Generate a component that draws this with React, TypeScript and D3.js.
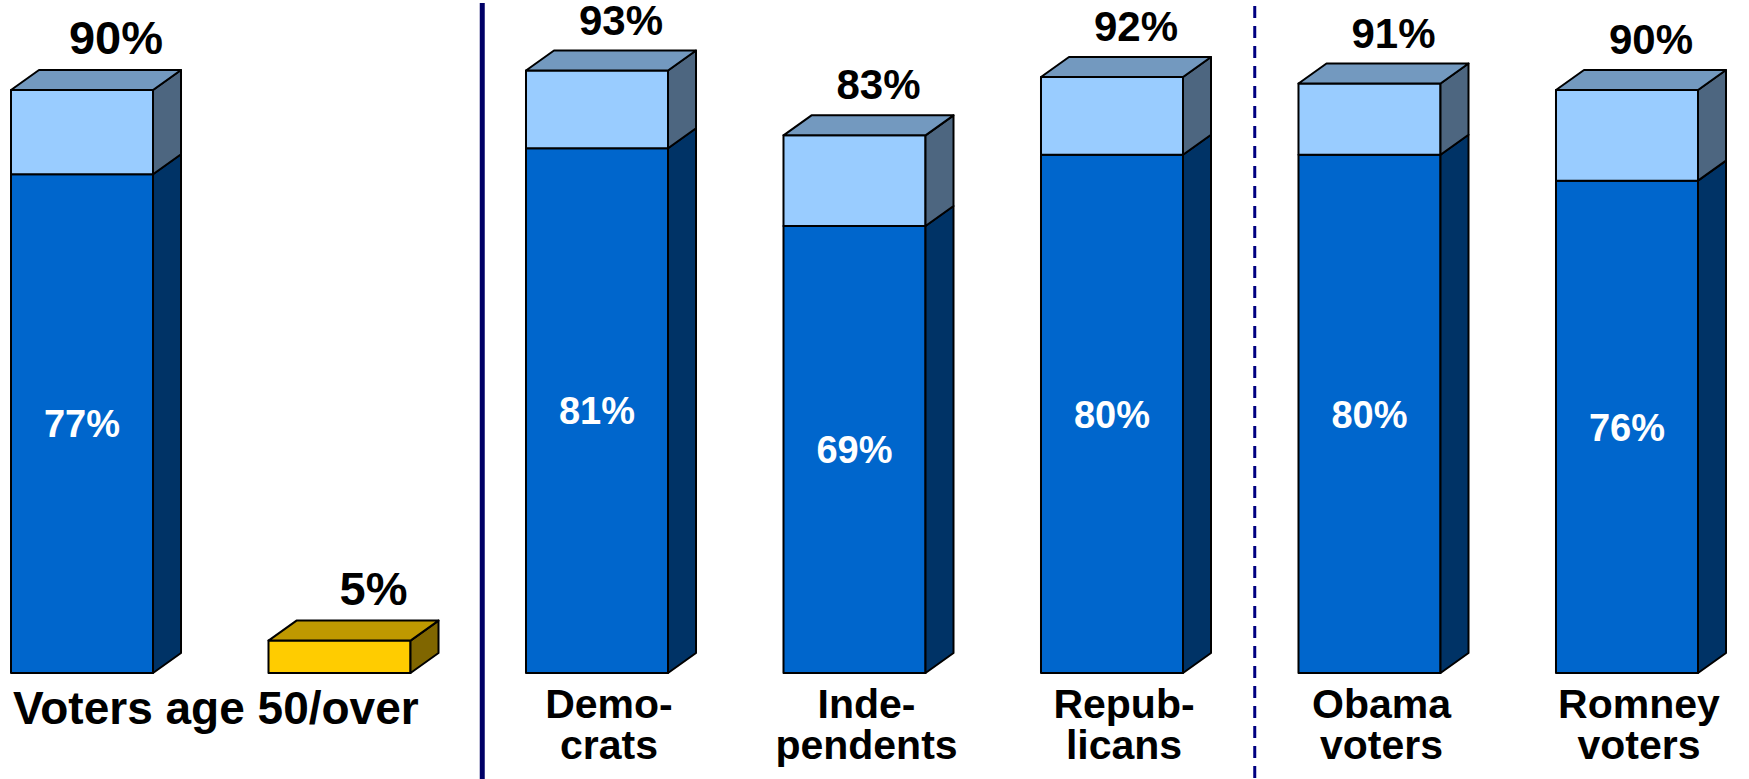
import * as d3 from "d3";

// bars, left to right
const barKeys = ["age50", "age50Other", "dem", "ind", "rep", "obama", "romney"];
const totalValues = [90, 5, 93, 83, 92, 91, 90];
const innerValues: (number | null)[] = [77, null, 81, 69, 80, 80, 76];
const panelOf = [0, 0, 1, 1, 1, 2, 2];
const barLabels: string[][] = [
  ["Voters age 50/over"],
  [],
  ["Demo-", "crats"],
  ["Inde-", "pendents"],
  ["Repub-", "licans"],
  ["Obama", "voters"],
  ["Romney", "voters"],
];

const W = 1749;
const H = 779;
const DX = 28;
const DY = -20;
const FONT = "'Liberation Sans', Arial, Helvetica, sans-serif";

const shades = {
  blue: { front: "#0066CC", side: "#003366", top: "#336699" },
  light: { front: "#99CCFF", side: "#4D6680", top: "#7399BF" },
  yellow: { front: "#FFCC00", side: "#806600", top: "#BF9900" },
};

type Shade = { front: string; side: string; top: string };

function Segment(props: { x0: number; w: number; yTop: number; yBot: number; c: Shade; lid: boolean }) {
  const { x0, w, yTop, yBot, c, lid } = props;
  const x1 = x0 + w;
  const side = [
    [x1, yBot],
    [x1 + DX, yBot + DY],
    [x1 + DX, yTop + DY],
    [x1, yTop],
  ];
  const top = [
    [x0, yTop],
    [x0 + DX, yTop + DY],
    [x1 + DX, yTop + DY],
    [x1, yTop],
  ];
  const pts = (p: number[][]) => p.map((d) => d.join(",")).join(" ");
  return (
    <g stroke="#000" strokeWidth={2} strokeLinejoin="round">
      <rect x={x0} y={yTop} width={w} height={yBot - yTop} fill={c.front} />
      <polygon points={pts(side)} fill={c.side} />
      {lid && <polygon points={pts(top)} fill={c.top} />}
    </g>
  );
}

export default function App() {
  const x = d3.scaleBand<string>().domain(barKeys).range([11, 1698]).paddingInner(0.4485).paddingOuter(0);
  const y = d3.scaleLinear().domain([0, 100]).range([673, 25.2]);
  const bw = x.bandwidth();

  const gapX = (i: number) => (x(barKeys[i])! + bw + DX + x(barKeys[i + 1])!) / 2;
  const solidX = gapX(1);
  const dashX = gapX(4);

  return (
    <svg
      width={W}
      height={H}
      viewBox={`0 0 ${W} ${H}`}
      style={{ position: "absolute", left: 0, top: 0, background: "#fff" }}
      fontFamily={FONT}
      fontWeight="bold"
    >
      <line x1={solidX} x2={solidX} y1={3} y2={H} stroke="#000066" strokeWidth={5} />
      <line x1={dashX} x2={dashX} y1={6} y2={H} stroke="#000080" strokeWidth={3} strokeDasharray="12 8" />

      {barKeys.map((k, i) => {
        const x0 = x(k)!;
        const total = totalValues[i];
        const inner = innerValues[i];
        const cx = x0 + bw / 2;
        const big = panelOf[i] === 0;
        return (
          <g key={k}>
            {inner === null ? (
              <Segment x0={x0} w={bw} yTop={y(total)} yBot={y(0)} c={shades.yellow} lid />
            ) : (
              <>
                <Segment x0={x0} w={bw} yTop={y(inner)} yBot={y(0)} c={shades.blue} lid={false} />
                <Segment x0={x0} w={bw} yTop={y(total)} yBot={y(inner)} c={shades.light} lid />
                <text x={cx} y={(y(inner) + y(0)) / 2} dy="0.36em" textAnchor="middle" fontSize={38} fill="#fff">
                  {inner}%
                </text>
              </>
            )}
            <text
              x={cx + (big ? 34 : 24)}
              y={y(total) + DY - 16}
              textAnchor="middle"
              fontSize={big ? 47 : 42}
              fill="#000"
            >
              {total}%
            </text>
            {big
              ? barLabels[i].map((s, j) => (
                  <text key={j} x={x0 + 2} y={724} fontSize={46} fill="#000">
                    {s}
                  </text>
                ))
              : barLabels[i].map((s, j) => (
                  <text key={j} x={cx + 12} y={718 + j * 41} textAnchor="middle" fontSize={41} fill="#000">
                    {s}
                  </text>
                ))}
          </g>
        );
      })}
    </svg>
  );
}
